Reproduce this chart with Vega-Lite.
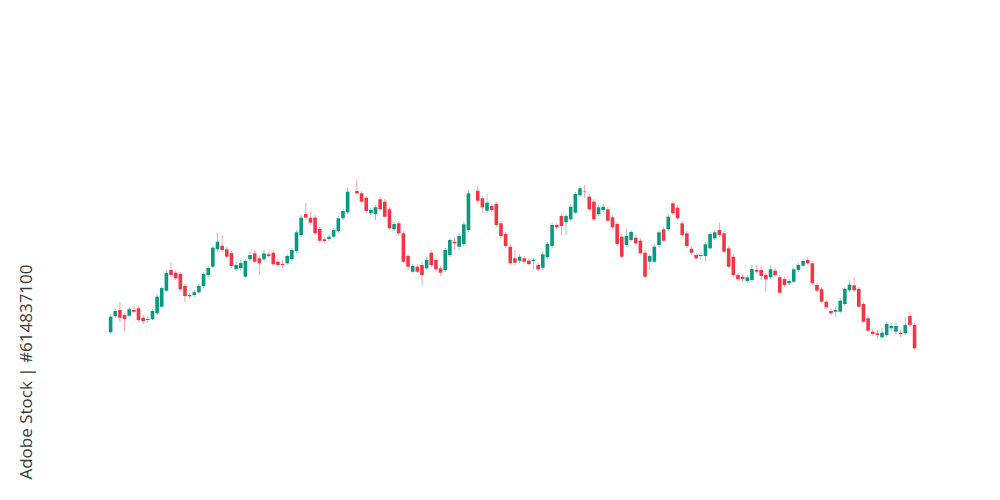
{
  "$schema": "https://vega.github.io/schema/vega-lite/v6.json",
  "width": 1000,
  "height": 500,
  "padding": 0,
  "autosize": {"type": "fit", "contains": "padding"},
  "background": "#ffffff",
  "config": {"view": {"stroke": null}},
  "datasets": {
    "candles": [
      {"i":0,"o":167.7,"h":186,"l":166,"c":183.3},
      {"i":1,"o":184,"h":192.3,"l":182,"c":189},
      {"i":2,"o":190,"h":198,"l":178,"c":182.3},
      {"i":3,"o":185,"h":187,"l":169,"c":181},
      {"i":4,"o":184.3,"h":193,"l":183,"c":190.7},
      {"i":5,"o":190,"h":194,"l":187,"c":188.3},
      {"i":6,"o":191.7,"h":194,"l":178,"c":180},
      {"i":7,"o":182.3,"h":185,"l":176,"c":179},
      {"i":8,"o":180,"h":184,"l":177,"c":181},
      {"i":9,"o":181,"h":191,"l":180,"c":189},
      {"i":10,"o":186.7,"h":206,"l":185,"c":203.3},
      {"i":11,"o":193.3,"h":214,"l":192,"c":212},
      {"i":12,"o":209.3,"h":230,"l":208,"c":227},
      {"i":13,"o":230,"h":237.3,"l":223,"c":225},
      {"i":14,"o":227.3,"h":230,"l":220,"c":221.7},
      {"i":15,"o":226,"h":228,"l":209,"c":210.7},
      {"i":16,"o":214,"h":216,"l":198,"c":204},
      {"i":17,"o":205,"h":207,"l":201,"c":203.7},
      {"i":18,"o":205,"h":210,"l":203,"c":207.7},
      {"i":19,"o":207.7,"h":216,"l":206,"c":214},
      {"i":20,"o":214,"h":228,"l":212,"c":226},
      {"i":21,"o":225,"h":234,"l":223,"c":232},
      {"i":22,"o":233.3,"h":255,"l":232,"c":252.3},
      {"i":23,"o":251,"h":267,"l":249,"c":258.3},
      {"i":24,"o":254.3,"h":265,"l":248,"c":250},
      {"i":25,"o":250.7,"h":253,"l":242,"c":243.3},
      {"i":26,"o":247,"h":249,"l":232,"c":234},
      {"i":27,"o":231,"h":238,"l":229,"c":235},
      {"i":28,"o":232,"h":240,"l":229,"c":237},
      {"i":29,"o":223.3,"h":241,"l":222,"c":239},
      {"i":30,"o":240.7,"h":248,"l":239,"c":245},
      {"i":31,"o":246.7,"h":250,"l":237,"c":238.3},
      {"i":32,"o":241.7,"h":244,"l":225,"c":236.7},
      {"i":33,"o":240.7,"h":250,"l":239,"c":246.7},
      {"i":34,"o":245.7,"h":248,"l":242,"c":244},
      {"i":35,"o":247.3,"h":250,"l":234,"c":235.7},
      {"i":36,"o":238.3,"h":241,"l":233,"c":235},
      {"i":37,"o":236,"h":240,"l":231.7,"c":235},
      {"i":38,"o":236.7,"h":246,"l":235,"c":244},
      {"i":39,"o":240.7,"h":252,"l":239,"c":250},
      {"i":40,"o":249,"h":270,"l":247,"c":267.7},
      {"i":41,"o":265,"h":285,"l":263,"c":282.3},
      {"i":42,"o":286,"h":297,"l":280,"c":282.3},
      {"i":43,"o":282.3,"h":288,"l":275,"c":277.3},
      {"i":44,"o":282.3,"h":285,"l":265,"c":266.7},
      {"i":45,"o":271,"h":273,"l":257,"c":259.3},
      {"i":46,"o":260.7,"h":263,"l":257,"c":259},
      {"i":47,"o":261,"h":266,"l":259,"c":263.3},
      {"i":48,"o":263.3,"h":272,"l":262,"c":270},
      {"i":49,"o":269,"h":284,"l":267,"c":281.7},
      {"i":50,"o":281.7,"h":291,"l":280,"c":289},
      {"i":51,"o":287.7,"h":312.3,"l":286,"c":308.3},
      {"i":53,"o":309,"h":320,"l":305,"c":306.7},
      {"i":54,"o":306.7,"h":309,"l":297,"c":298.3},
      {"i":55,"o":302.3,"h":304,"l":287,"c":289},
      {"i":56,"o":286.7,"h":292,"l":285,"c":290},
      {"i":57,"o":285.7,"h":295,"l":280,"c":292.7},
      {"i":58,"o":300.7,"h":303,"l":289,"c":290.7},
      {"i":59,"o":298.3,"h":301,"l":282,"c":283.3},
      {"i":60,"o":290.7,"h":293,"l":270,"c":271.7},
      {"i":61,"o":270.7,"h":278,"l":269,"c":276},
      {"i":62,"o":276.7,"h":279,"l":265,"c":266.7},
      {"i":63,"o":266.7,"h":269,"l":237,"c":238.3},
      {"i":64,"o":244,"h":246,"l":230,"c":233.3},
      {"i":65,"o":228.3,"h":236,"l":227,"c":234},
      {"i":66,"o":233.3,"h":236,"l":227,"c":228.3},
      {"i":67,"o":235,"h":238,"l":215,"c":225},
      {"i":68,"o":231.7,"h":243,"l":230,"c":240},
      {"i":69,"o":247.3,"h":250,"l":233,"c":235},
      {"i":70,"o":240,"h":242,"l":229,"c":230.7},
      {"i":71,"o":231.7,"h":234,"l":224,"c":227.3},
      {"i":72,"o":230,"h":252,"l":228,"c":250},
      {"i":73,"o":245,"h":262,"l":243,"c":260},
      {"i":74,"o":258.3,"h":263,"l":250,"c":256.7},
      {"i":75,"o":253.3,"h":267,"l":250,"c":264},
      {"i":76,"o":256,"h":278,"l":254,"c":275.7},
      {"i":77,"o":270,"h":310,"l":268,"c":306.7},
      {"i":79,"o":309.3,"h":314.3,"l":297,"c":299.3},
      {"i":80,"o":301.7,"h":304,"l":287,"c":292.7},
      {"i":81,"o":289.3,"h":306,"l":287,"c":297.3},
      {"i":82,"o":294,"h":296,"l":288,"c":290},
      {"i":83,"o":296,"h":298,"l":273,"c":275},
      {"i":84,"o":276.7,"h":279,"l":262,"c":264},
      {"i":85,"o":266,"h":268,"l":252,"c":254},
      {"i":86,"o":253.3,"h":256,"l":235,"c":236.7},
      {"i":87,"o":241.7,"h":250,"l":235,"c":237.3},
      {"i":88,"o":239.3,"h":246,"l":237,"c":243.3},
      {"i":89,"o":241.7,"h":244,"l":236,"c":238.3},
      {"i":90,"o":239.3,"h":242,"l":234,"c":236},
      {"i":91,"o":239,"h":242,"l":231,"c":240},
      {"i":92,"o":235,"h":237,"l":229,"c":230.7},
      {"i":93,"o":232.3,"h":248,"l":230,"c":245.7},
      {"i":94,"o":242.7,"h":258,"l":241,"c":256},
      {"i":95,"o":254,"h":277,"l":252,"c":275},
      {"i":96,"o":275,"h":277,"l":271,"c":272.7},
      {"i":97,"o":284,"h":286,"l":265,"c":274},
      {"i":98,"o":277.7,"h":286,"l":265,"c":284},
      {"i":99,"o":280.7,"h":296,"l":279,"c":293.3},
      {"i":100,"o":287.3,"h":308,"l":286,"c":306},
      {"i":101,"o":304.7,"h":314,"l":303,"c":311.7},
      {"i":102,"o":308.5,"h":315,"l":302,"c":308},
      {"i":103,"o":303.3,"h":306,"l":289,"c":290.7},
      {"i":104,"o":298.3,"h":301,"l":279,"c":280.7},
      {"i":105,"o":285.7,"h":295,"l":284,"c":292.7},
      {"i":106,"o":290,"h":296,"l":288,"c":293.3},
      {"i":107,"o":290.7,"h":293,"l":278,"c":279.3},
      {"i":108,"o":282.7,"h":285,"l":271,"c":272.7},
      {"i":109,"o":276,"h":278,"l":254,"c":256},
      {"i":110,"o":263.3,"h":266,"l":242,"c":243.3},
      {"i":111,"o":255,"h":270,"l":253,"c":264},
      {"i":112,"o":260,"h":270,"l":258,"c":268},
      {"i":113,"o":262.3,"h":265,"l":255,"c":256.7},
      {"i":114,"o":259.3,"h":262,"l":245,"c":246.7},
      {"i":115,"o":247.3,"h":250,"l":222,"c":223.3},
      {"i":116,"o":238.3,"h":246,"l":230,"c":244},
      {"i":117,"o":238.3,"h":256,"l":237,"c":253.3},
      {"i":118,"o":255,"h":270,"l":253,"c":267.7},
      {"i":119,"o":270.7,"h":273,"l":258,"c":259.3},
      {"i":120,"o":270.7,"h":286,"l":269,"c":283.3},
      {"i":121,"o":296.7,"h":299,"l":285,"c":286.7},
      {"i":122,"o":292.3,"h":295,"l":280,"c":281.7},
      {"i":123,"o":276.7,"h":279,"l":263,"c":265},
      {"i":124,"o":266.7,"h":269,"l":252,"c":254},
      {"i":125,"o":251.3,"h":254,"l":245,"c":247.3},
      {"i":126,"o":245,"h":247,"l":240,"c":241.7},
      {"i":127,"o":244,"h":248,"l":240,"c":245},
      {"i":128,"o":244,"h":258,"l":239,"c":255.7},
      {"i":129,"o":251.7,"h":268,"l":250,"c":266},
      {"i":130,"o":261.7,"h":270,"l":260,"c":267.7},
      {"i":131,"o":270,"h":277.3,"l":263,"c":265},
      {"i":132,"o":266.7,"h":269,"l":247,"c":248.3},
      {"i":133,"o":251.7,"h":254,"l":232,"c":233.3},
      {"i":134,"o":243.3,"h":246,"l":223,"c":225},
      {"i":135,"o":225,"h":227,"l":219,"c":220.7},
      {"i":136,"o":223.3,"h":226,"l":218,"c":221},
      {"i":137,"o":219,"h":225,"l":217,"c":222.7},
      {"i":138,"o":220,"h":235,"l":218,"c":231},
      {"i":139,"o":230,"h":235,"l":226,"c":228.3},
      {"i":140,"o":230,"h":233,"l":220,"c":224},
      {"i":141,"o":225,"h":227,"l":208.3,"c":220.7},
      {"i":142,"o":222.7,"h":235,"l":221,"c":230.7},
      {"i":143,"o":229.3,"h":232,"l":223,"c":225},
      {"i":144,"o":222.7,"h":225,"l":206,"c":207.3},
      {"i":145,"o":221,"h":223,"l":213,"c":215},
      {"i":146,"o":216.7,"h":221,"l":215,"c":219},
      {"i":147,"o":218.3,"h":233,"l":217,"c":230.7},
      {"i":148,"o":230,"h":237,"l":228,"c":235},
      {"i":149,"o":234.3,"h":241,"l":233,"c":239},
      {"i":150,"o":240,"h":242.7,"l":235,"c":236.7},
      {"i":151,"o":236.7,"h":239,"l":215,"c":216.7},
      {"i":152,"o":215,"h":217,"l":208,"c":209.3},
      {"i":153,"o":210.7,"h":213,"l":197,"c":198.3},
      {"i":154,"o":198.3,"h":200,"l":191,"c":192.7},
      {"i":155,"o":189,"h":191,"l":185,"c":186.7},
      {"i":156,"o":188.3,"h":193.3,"l":183.3,"c":190},
      {"i":157,"o":188.3,"h":202,"l":187,"c":199.3},
      {"i":158,"o":196,"h":213,"l":194,"c":211},
      {"i":159,"o":209.7,"h":220,"l":208,"c":215.3},
      {"i":160,"o":214.7,"h":223,"l":208,"c":209.7},
      {"i":161,"o":211,"h":213,"l":192,"c":193.3},
      {"i":162,"o":196,"h":198,"l":177,"c":178.3},
      {"i":163,"o":181.7,"h":184,"l":168,"c":169.3},
      {"i":164,"o":168.3,"h":171,"l":164,"c":166},
      {"i":165,"o":166.7,"h":170,"l":162,"c":165},
      {"i":166,"o":162.7,"h":172,"l":161,"c":167.3},
      {"i":167,"o":165,"h":178.3,"l":163,"c":176},
      {"i":168,"o":171.7,"h":177,"l":169,"c":174},
      {"i":169,"o":168.3,"h":177,"l":166,"c":174},
      {"i":170,"o":167.3,"h":170,"l":163,"c":166},
      {"i":171,"o":166.7,"h":183,"l":165,"c":175},
      {"i":172,"o":184,"h":188.3,"l":173,"c":175},
      {"i":173,"o":175,"h":177,"l":150,"c":151.7}
    ],
    "marks": [{"t": "Adobe Stock | #614837100"}]
  },
  "layer": [
    {
      "data": {"name": "candles"},
      "mark": {"type": "rule", "strokeWidth": 1, "opacity": 0.45},
      "encoding": {
        "x": {"field": "i", "type": "quantitative", "scale": {"domain": [-22.73, 190.31], "nice": false, "zero": false}, "axis": null},
        "y": {"field": "l", "type": "quantitative", "scale": {"domain": [0, 500], "nice": false, "zero": false}, "axis": null},
        "y2": {"field": "h"},
        "color": {"condition": {"test": "datum.c >= datum.o", "value": "#089981"}, "value": "#f23645"}
      }
    },
    {
      "data": {"name": "candles"},
      "mark": {"type": "bar", "size": 3.6},
      "encoding": {
        "x": {"field": "i", "type": "quantitative"},
        "y": {"field": "o", "type": "quantitative"},
        "y2": {"field": "c"},
        "color": {"condition": {"test": "datum.c >= datum.o", "value": "#089981"}, "value": "#f23645"}
      }
    },
    {
      "data": {"name": "marks"},
      "mark": {"type": "text", "angle": 270, "align": "center", "baseline": "middle", "font": "Open Sans", "fontSize": 17, "fontWeight": 500, "color": "#3a3a3a"},
      "encoding": {
        "x": {"datum": -18.04},
        "y": {"datum": 128},
        "text": {"field": "t"}
      }
    }
  ]
}
